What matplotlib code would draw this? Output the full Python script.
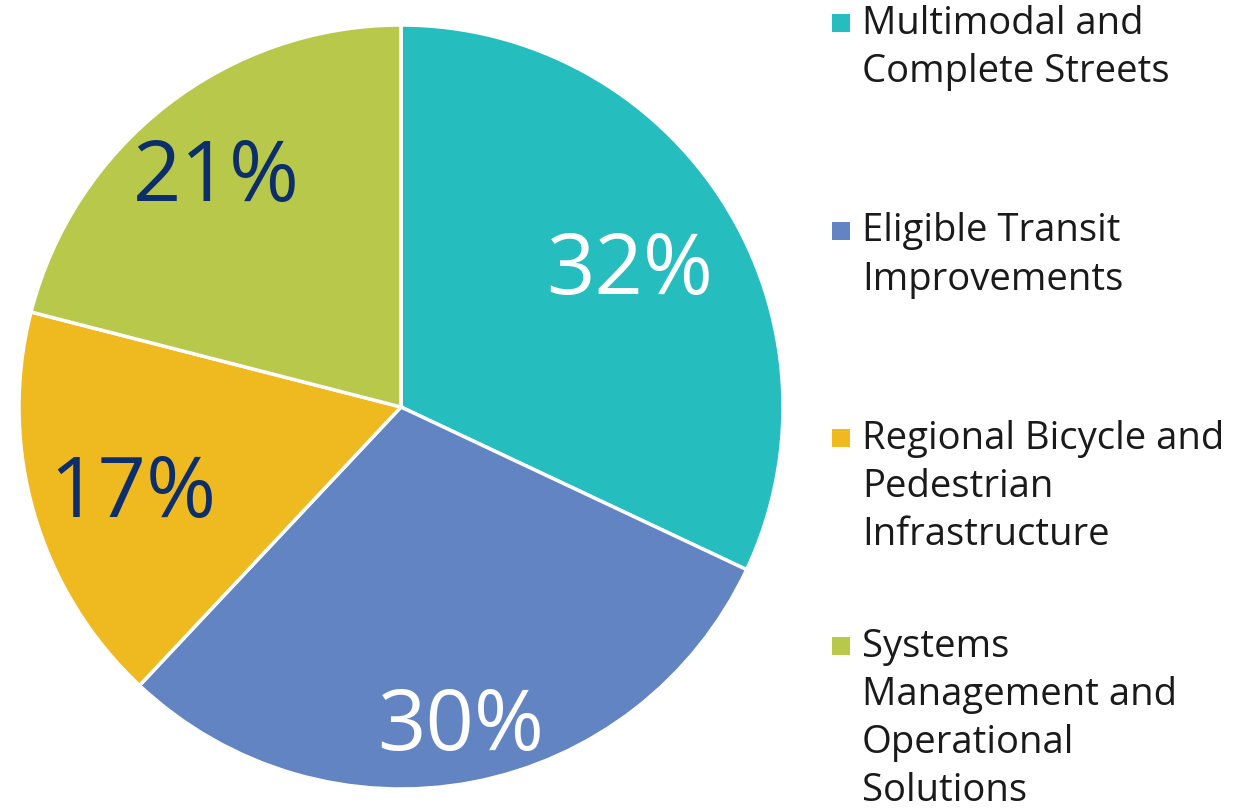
import matplotlib
matplotlib.use('Agg')
from matplotlib import pyplot as plt
from matplotlib.patches import Rectangle
import numpy as np

# data
categories = ['Multimodal and\nComplete Streets',
              'Eligible Transit\nImprovements',
              'Regional Bicycle and\nPedestrian\nInfrastructure',
              'Systems\nManagement and\nOperational\nSolutions']
shares = [32, 30, 17, 21]

colors = ['#26bdbf', '#6284c3', '#efb920', '#b7c84a']
label_colors = ['#ffffff', '#ffffff', '#0c2f6b', '#0c2f6b']
label_dist = [0.71, 0.83, 0.73, 0.79]

plt.rcParams['font.family'] = ['Open Sans', 'DejaVu Sans']

W, H = 1256, 808
fig = plt.figure(figsize=(W / 100, H / 100), dpi=100)
fig.patch.set_facecolor('white')

# pie axes: centre ~ (401, 407) px, radius ~ 382 px
cx, cy, r = 401, 407, 382
ax = fig.add_axes([(cx - r) / W, (H - cy - r) / H, 2 * r / W, 2 * r / H])
wedges, _ = ax.pie(shares, colors=colors, startangle=90, counterclock=False,
                   wedgeprops={'linewidth': 2.5, 'edgecolor': 'white'})
ax.set_xlim(-1.0, 1.0)
ax.set_ylim(-1.0, 1.0)
ax.set_aspect('equal')
ax.axis('off')

for w, val, d, c in zip(wedges, shares, label_dist, label_colors):
    ang = np.deg2rad((w.theta1 + w.theta2) / 2)
    ax.text(d * np.cos(ang), d * np.sin(ang), '%d%%' % val,
            ha='center', va='center_baseline', fontsize=61, color=c,
            fontweight='medium')

# legend drawn by hand so the marker sits on the first line
top0, step = 5, 207.5
for i, (lab, col) in enumerate(zip(categories, colors)):
    ty = top0 + i * step
    fig.text(862 / W, 1 - ty / H, lab, ha='left', va='top',
             fontsize=27.5, color='#1a1a1a', linespacing=1.35)
    fig.patches.append(Rectangle((832 / W, 1 - 32 / H - i * step / H), 18 / W, 18 / H,
                                 transform=fig.transFigure, facecolor=col,
                                 edgecolor='none'))

fig.savefig('out.png', dpi=100)
